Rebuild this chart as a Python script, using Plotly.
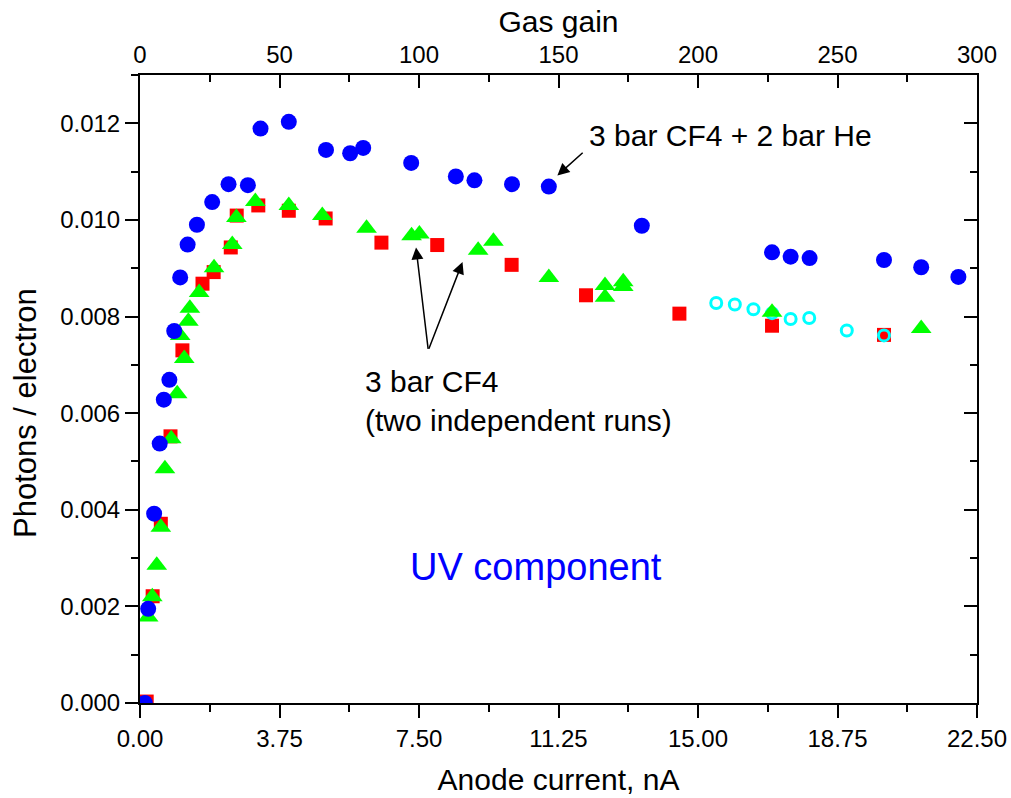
import plotly.graph_objects as go

# ---------------- data ----------------
# 3 bar CF4 + 2 bar He (blue filled circles)
he_current = [0.13, 0.22, 0.38, 0.53, 0.64, 0.79, 0.92, 1.08, 1.28, 1.53, 1.94, 2.38, 2.90,
              3.24, 4.00, 5.00, 5.65, 6.00, 7.29, 8.49, 8.99, 10.00, 10.99, 13.49, 16.99,
              17.49, 18.00, 20.00, 21.00, 22.00]
he_photons = [0.0000, 0.00195, 0.00392, 0.00537, 0.00628, 0.00669, 0.00770, 0.00881, 0.00949,
              0.00990, 0.01037, 0.01074, 0.01072, 0.01189, 0.01203, 0.01145, 0.01138, 0.01149,
              0.01118, 0.01090, 0.01082, 0.01074, 0.01069, 0.00988, 0.00933, 0.00924, 0.00921,
              0.00917, 0.00902, 0.00882]

# 3 bar CF4, run 1 (red squares)
cf4a_current = [0.18, 0.34, 0.56, 0.82, 1.14, 1.68, 1.98, 2.44, 2.60, 3.18, 4.00, 4.99, 6.49,
                7.99, 9.99, 11.99, 14.50, 16.99, 20.00]
cf4a_photons = [0.00003, 0.00221, 0.00371, 0.00552, 0.00730, 0.00868, 0.00892, 0.00943, 0.01009,
                0.01030, 0.01019, 0.01003, 0.00953, 0.00948, 0.00907, 0.00844, 0.00806, 0.00781,
                0.00762]

# 3 bar CF4, run 2 (green triangles)
cf4b_current = [0.22, 0.33, 0.45, 0.56, 0.67, 0.84, 1.00, 1.19, 1.08, 1.30, 1.34, 1.59, 1.99,
                2.48, 2.59, 3.10, 4.00, 4.90, 6.09, 7.30, 7.51, 9.09, 9.50, 10.99, 12.50, 12.50,
                12.99, 12.99, 16.99, 21.00]
cf4b_photons = [0.00178, 0.00220, 0.00285, 0.00364, 0.00485, 0.00547, 0.00640, 0.00713, 0.00761,
                0.00790, 0.00817, 0.00850, 0.00901, 0.00949, 0.01005, 0.01038, 0.01030, 0.01009,
                0.00983, 0.00967, 0.00971, 0.00937, 0.00956, 0.00881, 0.00840, 0.00864, 0.00862,
                0.00872, 0.00809, 0.00775]

# extra points (cyan open circles)
open_current = [15.49, 15.99, 16.49, 16.99, 17.49, 17.99, 19.00, 20.00]
open_photons = [0.00828, 0.00825, 0.00815, 0.00807, 0.00795, 0.00797, 0.00771, 0.00761]

# axes
x_range = [0, 22.5]
y_range = [0, 0.013]
gain_range = [0, 300]
gain_ticks = [0, 50, 100, 150, 200, 250, 300]
current_ticks = [0.00, 3.75, 7.50, 11.25, 15.00, 18.75, 22.50]
photon_ticks = [0.000, 0.002, 0.004, 0.006, 0.008, 0.010, 0.012]

FONT = "Liberation Sans, Arial, sans-serif"

fig = go.Figure()

fig.add_trace(go.Scatter(x=cf4a_current, y=cf4a_photons, mode="markers",
                         marker=dict(symbol="square", size=14, color="#ff0000"),
                         name="3 bar CF4 run 1", showlegend=False))
fig.add_trace(go.Scatter(x=open_current, y=open_photons, mode="markers",
                         marker=dict(symbol="circle-open", size=11, color="#00ffff",
                                     line=dict(width=3, color="#00ffff")),
                         name="open", showlegend=False))
fig.add_trace(go.Scatter(x=cf4b_current, y=cf4b_photons, mode="markers",
                         marker=dict(symbol="triangle-up", size=18, color="#00ff00"),
                         name="3 bar CF4 run 2", showlegend=False))
fig.add_trace(go.Scatter(x=he_current, y=he_photons, mode="markers",
                         marker=dict(symbol="circle", size=16, color="#0000ff"),
                         name="3 bar CF4 + 2 bar He", showlegend=False))

# invisible trace to carry the top (gas gain) and right axes
fig.add_trace(go.Scatter(x=gain_range, y=y_range, xaxis="x2", yaxis="y2", mode="markers",
                         marker=dict(opacity=0), hoverinfo="skip", showlegend=False))

axis_common = dict(showline=True, linecolor="black", linewidth=2, showgrid=False,
                   zeroline=False, tickcolor="black", tickwidth=2, automargin=False,
                   tickfont=dict(family=FONT, size=24, color="black"))

fig.update_layout(
    width=1011, height=798,
    margin=dict(l=140, r=34, t=75, b=95),
    paper_bgcolor="white", plot_bgcolor="white",
    font=dict(family=FONT, color="black"),
    xaxis=dict(range=x_range, tickvals=current_ticks, tickformat=".2f",
               ticks="outside", ticklen=13,
               minor=dict(dtick=1.875, tick0=0, ticks="outside", ticklen=7, tickwidth=2, tickcolor="black"),
               title=dict(text="Anode current, nA", font=dict(family=FONT, size=30), standoff=18),
               **axis_common),
    yaxis=dict(range=y_range, tickvals=photon_ticks, tickformat=".3f",
               ticks="outside", ticklen=13,
               minor=dict(dtick=0.001, tick0=0, ticks="outside", ticklen=7, tickwidth=2, tickcolor="black"),
               **axis_common),
    xaxis2=dict(range=gain_range, overlaying="x", side="top", anchor="y2",
                tickvals=gain_ticks, ticks="inside", ticklen=13,
                minor=dict(dtick=25, tick0=0, ticks="inside", ticklen=7, tickwidth=2, tickcolor="black"),
                title=dict(text="Gas gain", font=dict(family=FONT, size=30), standoff=0),
                **axis_common),
    yaxis2=dict(range=y_range, overlaying="y", side="right", anchor="x2",
                tickvals=photon_ticks, ticks="inside", ticklen=13, showticklabels=False,
                minor=dict(dtick=0.001, tick0=0, ticks="inside", ticklen=7, tickwidth=2, tickcolor="black"),
                **axis_common),
)

# y-axis title (placed slightly below the plot centre, as in the original)
fig.add_annotation(x=-0.136, y=0.462, xref="paper", yref="paper", text="Photons / electron",
                   textangle=-90, showarrow=False, xanchor="center", yanchor="middle",
                   font=dict(family=FONT, size=31, color="black"))

ann_font = dict(family=FONT, size=30, color="black")
fig.add_annotation(x=12.02, y=0.01174, xref="x", yref="y", text="3 bar CF4 + 2 bar He",
                   showarrow=False, xanchor="left", yanchor="middle", font=ann_font)
fig.add_annotation(x=5.99, y=0.00626, xref="x", yref="y",
                   text="3 bar CF4<br>(two independent runs)", align="left",
                   showarrow=False, xanchor="left", yanchor="middle", font=ann_font)
fig.add_annotation(x=7.2, y=0.00281, xref="x", yref="y", text="UV component",
                   showarrow=False, xanchor="left", yanchor="middle",
                   font=dict(family=FONT, size=38, color="#0000ff"))

# arrows
arrows = [((11.22, 0.01092), (11.94, 0.01142)),
          ((7.42, 0.00943), (7.75, 0.00730)),
          ((8.67, 0.00913), (7.75, 0.00730))]
for (hx, hy), (tx, ty) in arrows:
    fig.add_annotation(x=hx, y=hy, ax=tx, ay=ty, xref="x", yref="y", axref="x", ayref="y",
                       text="", showarrow=True, arrowhead=2, arrowsize=1.6, arrowwidth=1.5,
                       arrowcolor="black")

fig.write_html("out.html")
